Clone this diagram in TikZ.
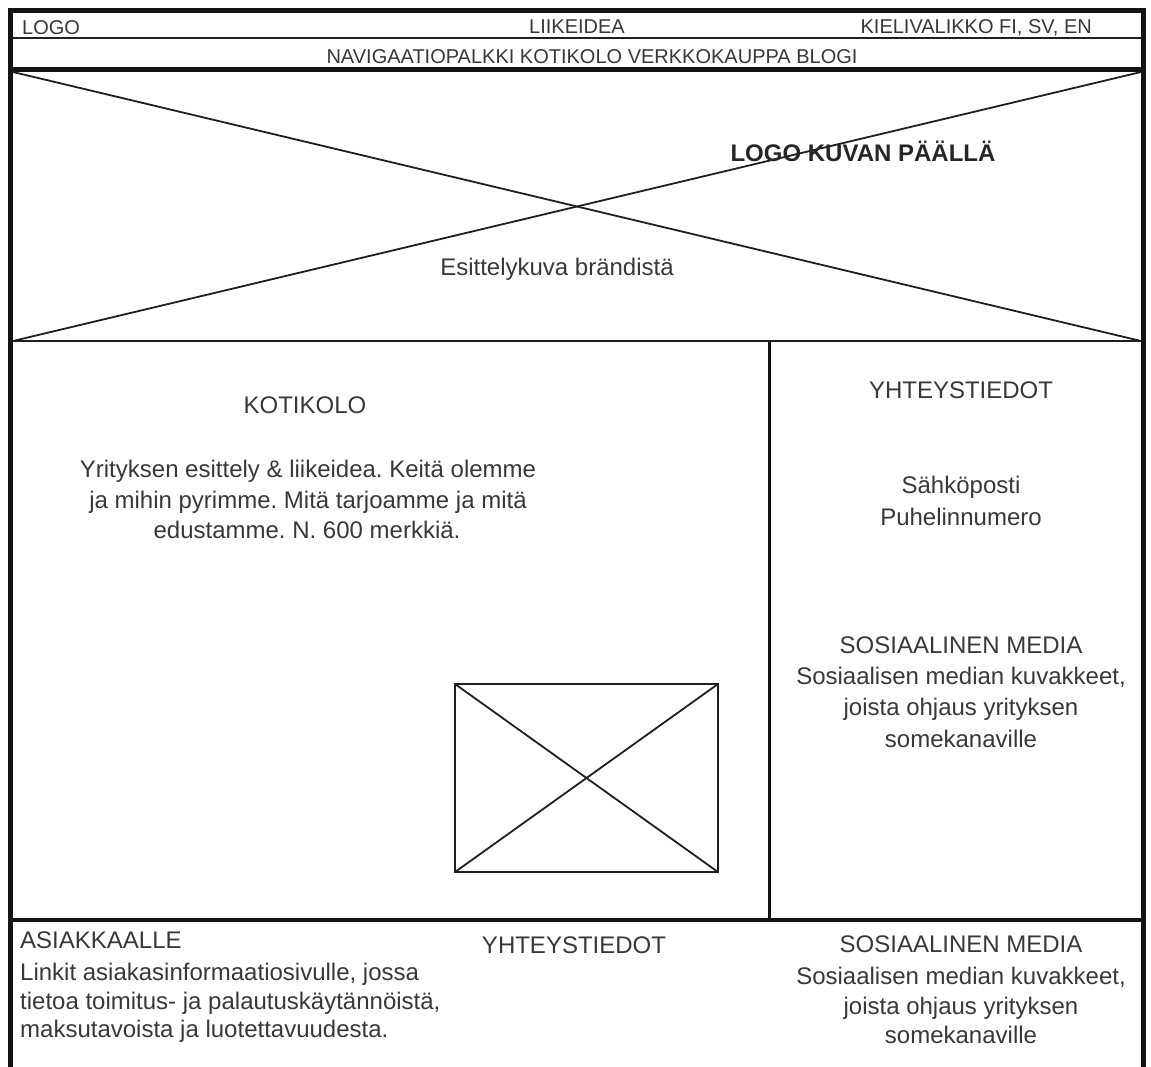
\documentclass[tikz,border=0pt]{standalone}
\usepackage{fontspec}
\setmainfont{Liberation Sans}
\frenchspacing
\begin{document}
\begin{tikzpicture}[x=1pt,y=-1pt,
  txt/.style={text=black!78,inner sep=0pt,anchor=base,font=\fontsize{24}{31}\selectfont},
  small/.style={txt,font=\fontsize{20}{24}\selectfont},
  frame/.style={draw=black!92,line width=5pt},
  divider/.style={draw=black!92,line width=3.6pt},
  thin/.style={draw=black!88,line width=1.8pt},
  cross/.style={draw=black!88,line width=1.8pt}]
\useasboundingbox (0,0) rectangle (1151,1066);
\clip (0,0) rectangle (1151,1066);

% header rows
\draw[thin] (11,38) -- (1143,38);
\draw[frame] (11,69) -- (1143,69);

% hero image placeholder
\draw[thin] (11,341) -- (1143,341);
\draw[cross] (13,72) -- (1141,341);
\draw[cross] (13,341) -- (1141,72);

% main content area
\draw[divider] (11,920) -- (1143,920);
\draw[divider] (769.5,341) -- (769.5,920);

% small image placeholder
\draw[cross] (455,684) rectangle (718,872);
\draw[cross] (455,684) -- (718,872);
\draw[cross] (455,872) -- (718,684);

% outer frame
\draw[frame] (10.5,1080) -- (10.5,10.5) -- (1143.5,10.5) -- (1143.5,1080);

% header texts
\node[small,anchor=base west] (logo) at (22,34) {LOGO};
\node[small] (idea) at (577,33) {LIIKEIDEA};
\node[small,anchor=base east] (lang) at (1092,33) {KIELIVALIKKO FI, SV, EN};
\node[small] (nav) at (592,63) {NAVIGAATIOPALKKI KOTIKOLO VERKKOKAUPPA BLOGI};

% hero texts
\node[txt,font=\fontsize{24}{31}\selectfont\bfseries,text=black!85] (logoimg) at (863,161) {LOGO KUVAN PÄÄLLÄ};
\node[txt] (brand) at (557,275) {Esittelykuva brändistä};

% left column
\node[txt] (koti) at (305,413) {KOTIKOLO};
\node[txt] (intro1) at (308,477) {Yrityksen esittely \& liikeidea. Keitä olemme};
\node[txt] (intro2) at (308,508) {ja mihin pyrimme. Mitä tarjoamme ja mitä};
\node[txt] (intro3) at (307,538) {edustamme. N. 600 merkkiä.};

% right column
\node[txt] (contact) at (961,398) {YHTEYSTIEDOT};
\node[txt] (email) at (961,493) {Sähköposti};
\node[txt] (phone) at (961,525) {Puhelinnumero};
\node[txt] (some) at (961,653) {SOSIAALINEN MEDIA};
\node[txt] (some1) at (961,684) {Sosiaalisen median kuvakkeet,};
\node[txt] (some2) at (961,715) {joista ohjaus yrityksen};
\node[txt] (some3) at (961,747) {somekanaville};

% footer
\node[txt,anchor=base west] (cust) at (20,948) {ASIAKKAALLE};
\node[txt,anchor=base west] (cust1) at (20,980) {Linkit asiakasinformaatiosivulle, jossa};
\node[txt,anchor=base west] (cust2) at (20,1009) {tietoa toimitus- ja palautuskäytännöistä,};
\node[txt,anchor=base west] (cust3) at (20,1037) {maksutavoista ja luotettavuudesta.};
\node[txt] (fcontact) at (574,953) {YHTEYSTIEDOT};
\node[txt] (fsome) at (961,952) {SOSIAALINEN MEDIA};
\node[txt] (fsome1) at (961,984) {Sosiaalisen median kuvakkeet,};
\node[txt] (fsome2) at (961,1014) {joista ohjaus yrityksen};
\node[txt] (fsome3) at (961,1043) {somekanaville};
\end{tikzpicture}
\end{document}
